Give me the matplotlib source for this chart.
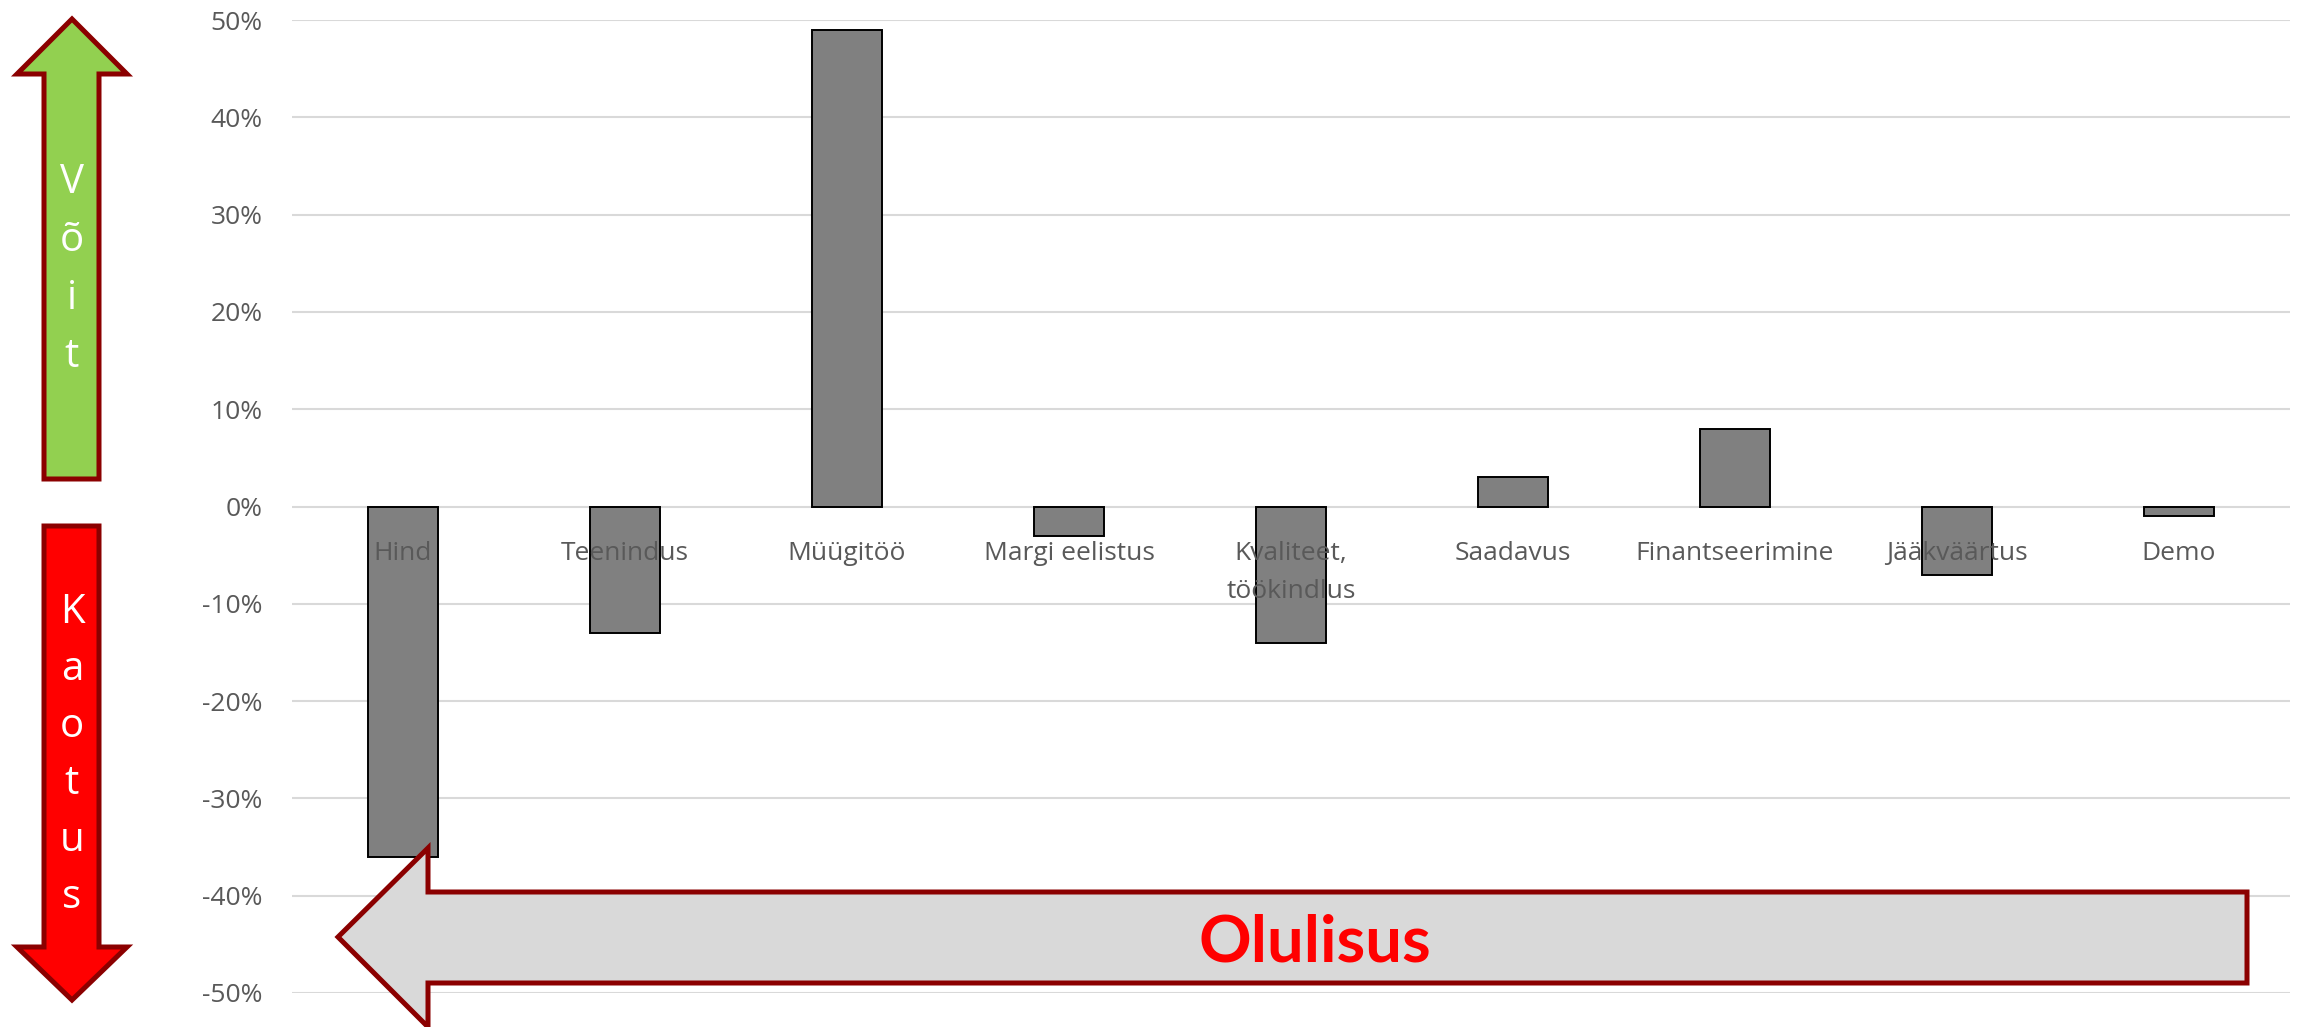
import matplotlib
matplotlib.use("Agg")
import matplotlib.pyplot as plt
import matplotlib.transforms as mtransforms
from matplotlib.patches import Polygon
from matplotlib.ticker import FuncFormatter

# Chart data
categories = ["Hind", "Teenindus", "Müügitöö", "Margi eelistus", "Kvaliteet,\ntöökindlus",
              "Saadavus", "Finantseerimine", "Jääkväärtus", "Demo"]
values = [-0.36, -0.13, 0.49, -0.03, -0.14, 0.03, 0.08, -0.07, -0.01]
yticks = [-0.5, -0.4, -0.3, -0.2, -0.1, 0.0, 0.1, 0.2, 0.3, 0.4, 0.5]
gain_label = "Võit"
loss_label = "Kaotus"
importance_label = "Olulisus"

W, H = 2300, 1027
DPI = 100
fig = plt.figure(figsize=(W / DPI, H / DPI), dpi=DPI)
fig.patch.set_facecolor("white")

FONT = ["Open Sans", "DejaVu Sans"]
TXT = "#595959"
DARK_RED = "#8B0000"


def fx(px):
    return px / W


def fy(py):
    return 1 - py / H


ax = fig.add_axes([fx(292), fy(993), fx(2290) - fx(292), fy(20) - fy(993)])
x = list(range(len(categories)))
ax.bar(x, values, width=0.315, color="#808080", edgecolor="black", linewidth=1.4, zorder=2)
ax.set_xlim(-0.5, len(categories) - 0.5)
ax.set_ylim(-0.5, 0.5)
ax.set_yticks(yticks)
ax.yaxis.set_major_formatter(FuncFormatter(lambda v, p: f"{round(v * 100):d}%"))
ax.tick_params(axis="y", length=0, pad=21, labelsize=19, labelcolor=TXT)
for lbl in ax.get_yticklabels():
    lbl.set_fontfamily(FONT)
ax.set_xticks([])
ax.grid(axis="y", color="#D9D9D9", linewidth=1.5, zorder=0)
ax.set_axisbelow(True)
for s in ax.spines.values():
    s.set_visible(False)

# Category labels placed just below the zero line
blend = mtransforms.blended_transform_factory(ax.transData, fig.transFigure)
for i, cat in enumerate(categories):
    for k, line in enumerate(cat.split("\n")):
        ax.text(i, fy(560 + 38 * k), line, transform=blend, ha="center", va="baseline",
                fontsize=19, color=TXT, family=FONT, zorder=3)


def add_poly(points, face):
    poly = Polygon([(fx(px), fy(py)) for px, py in points], closed=True,
                   transform=fig.transFigure, facecolor=face, edgecolor=DARK_RED,
                   linewidth=3.6, joinstyle="miter", zorder=5)
    fig.add_artist(poly)


# Up arrow (gain)
add_poly([(44, 479), (44, 74), (17, 74), (72, 19), (127, 74), (99, 74), (99, 479)], "#92D050")
for k, ch in enumerate(gain_label):
    fig.text(fx(72), fy(193 + 58 * k), ch, ha="center", va="baseline",
             fontsize=29, color="white", family=FONT, zorder=6)

# Down arrow (loss)
add_poly([(44, 526), (99, 526), (99, 947), (127, 947), (72, 1000), (17, 947), (44, 947)], "#FF0000")
for k, ch in enumerate(loss_label):
    fig.text(fx(72), fy(623 + 57 * k), ch, ha="center", va="baseline",
             fontsize=29, color="white", family=FONT, zorder=6)

# Left arrow (importance)
add_poly([(2247, 892), (2247, 983), (428, 983), (428, 1027), (338, 937),
          (428, 848), (428, 892)], "#D9D9D9")
fig.text(fx(1315), fy(962), importance_label, ha="center", va="baseline",
         fontsize=47, fontweight="bold", color="#FF0000", family=["Lato", "DejaVu Sans"], zorder=6)

fig.savefig("out.png", dpi=DPI)
